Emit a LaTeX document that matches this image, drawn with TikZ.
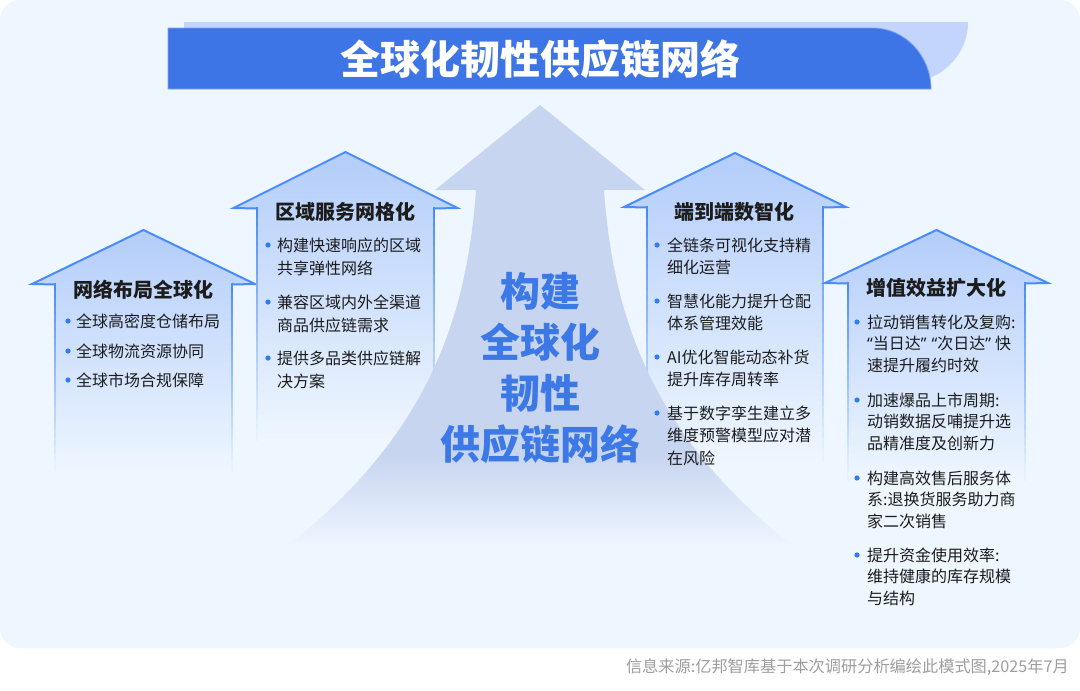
\documentclass[tikz,border=0pt]{standalone}
\usepackage{fontspec}
\setmainfont{Noto Sans CJK SC}
\newfontfamily\latinq{Noto Sans}
\usetikzlibrary{calc}
\definecolor{bgc}{HTML}{EEF6FF}
\definecolor{bannerdark}{HTML}{3D74E6}
\definecolor{bannerlight}{HTML}{C3D4FD}
\definecolor{bannerrim}{HTML}{7FA3F0}
\definecolor{arrowline}{HTML}{4A8CF7}
\definecolor{arrowfill}{HTML}{B3CDFA}
\definecolor{centerfill}{HTML}{C8D5F0}
\definecolor{centertxt}{HTML}{3C78E6}
\definecolor{dotc}{HTML}{2F7CF5}
\definecolor{txtc}{HTML}{1C1C1C}
\definecolor{footc}{HTML}{9E9E9E}

\newcommand{\sidearrow}[6]{%
  % #1 centre x, #2 apex y, #3 head base y, #4 head half width, #5 shaft half width, #6 fade end y
  \begin{scope}
    \clip ({#1-#5},#6) -- ({#1-#5},#3) -- ({#1-#4},#3) -- (#1,#2) -- ({#1+#4},#3) -- ({#1+#5},#3) -- ({#1+#5},#6) -- cycle;
    \shade[top color=arrowfill, bottom color=bgc] ({#1-#4},#2) rectangle ({#1+#4},#6);
  \end{scope}
  \draw[arrowline, line width=2, line join=miter]
    ({#1-#5},{#3+0.5}) -- ({#1-#4},#3) -- (#1,#2) -- ({#1+#4},#3) -- ({#1+#5},{#3+0.5});
  \foreach \i in {0,...,23} {
    \pgfmathtruncatemacro\pc{100-100*\i/24}
    \draw[color=arrowline!\pc!bgc, line width=2, line cap=rect]
      ({#1-#5},{#3+(#6-#3)*\i/24}) -- ({#1-#5},{#3+(#6-#3)*(\i+1)/24});
    \draw[color=arrowline!\pc!bgc, line width=2, line cap=rect]
      ({#1+#5},{#3+(#6-#3)*\i/24}) -- ({#1+#5},{#3+(#6-#3)*(\i+1)/24});
  }
}

\begin{document}
\begin{tikzpicture}[x=1pt,y=-1pt,
  itemtxt/.style={anchor=north west, inner sep=0pt, align=left, text=txtc},
  sizeA/.style={font=\fontsize{16}{22.5}\selectfont},
  sizeB/.style={font=\fontsize{16}{21.7}\selectfont},
  arrowtitle/.style={inner sep=0pt, text=txtc, font=\bfseries\fontsize{20}{24}\selectfont},
  dot/.style={fill=dotc}
]
\useasboundingbox (0,0) rectangle (1080,691);
\fill[white] (0,0) rectangle (1080,691);
\fill[bgc, rounded corners=20] (0,0) rectangle (1080,648);

% banner
\fill[bannerlight] (184,22) -- (968,22) .. controls (968,55) and (941,82) .. (908,82) -- (184,82) -- cycle;
\fill[bannerdark, draw=bannerrim, line width=0.8] (168,28) -- (873,28) .. controls (905,28) and (931,56) .. (931,89) -- (168,89) -- cycle;
\node[inner sep=0pt, text=white, font=\bfseries\fontsize{40}{44}\selectfont] (title) at (540,59) {全球化韧性供应链网络};

% side arrows
\sidearrow{143.5}{230}{284}{111.5}{88.5}{470}
\sidearrow{345.5}{152}{208}{112}{88.5}{440}
\sidearrow{735}{153}{207}{111}{88}{460}
\sidearrow{936.5}{230}{283}{111.5}{88.5}{480}

% centre arrow
\begin{scope}
  \clip (540,105) -- (645,190) -- (604,190) .. controls (614,330) and (660,460) .. (840,580)
        -- (240,580) .. controls (420,460) and (466,330) .. (476,190) -- (435,190) -- cycle;
  \fill[centerfill] (200,100) rectangle (880,456);
  \shade[top color=centerfill, bottom color=bgc] (200,455) rectangle (880,546);
  \fill[bgc] (200,545) rectangle (880,585);
\end{scope}
\node[align=center, inner sep=0pt, text=centertxt, font=\bfseries\fontsize{40}{51}\selectfont] (core) at (540,368)
  {构建\\全球化\\韧性\\供应链网络};

% arrow 1
\node[arrowtitle] (t1) at (143.5,290) {网络布局全球化};
\foreach \y/\n/\s in {321/a1/全球高密度仓储布局, 351/a2/全球物流资源协同, 380/a3/全球市场合规保障} {
  \fill[dot] (68,\y) circle (2.6);
  \node[itemtxt, sizeA] (\n) at (76,{\y-7.5}) {\s};
}

% arrow 2
\node[arrowtitle] (t2) at (345.5,212) {区域服务网格化};
\fill[dot] (268,245) circle (2.6);
\node[itemtxt, font=\fontsize{16}{23}\selectfont] (b1) at (277,237.5) {构建快速响应的区域\\共享弹性网络};
\fill[dot] (268,302) circle (2.6);
\node[itemtxt, font=\fontsize{16}{23}\selectfont] (b2) at (277,294.5) {兼容区域内外全渠道\\商品供应链需求};
\fill[dot] (268,358) circle (2.6);
\node[itemtxt, font=\fontsize{16}{23}\selectfont] (b3) at (277,350.5) {提供多品类供应链解\\决方案};

% arrow 3
\node[arrowtitle] (t3) at (734,212) {端到端数智化};
\fill[dot] (657,245) circle (2.6);
\node[itemtxt, sizeA] (c1) at (667,237.5) {全链条可视化支持精\\细化运营};
\fill[dot] (657,301) circle (2.6);
\node[itemtxt, sizeA] (c2) at (667,293.5) {智慧化能力提升仓配\\体系管理效能};
\fill[dot] (657,357) circle (2.6);
\node[itemtxt, sizeA] (c3) at (667,349.5) {AI优化智能动态补货\\提升库存周转率};
\fill[dot] (657,413) circle (2.6);
\node[itemtxt, sizeA] (c4) at (667,405.5) {基于数字孪生建立多\\维度预警模型应对潜\\在风险};

% arrow 4
\node[arrowtitle] (t4) at (936,288) {增值效益扩大化};
\fill[dot] (857,322) circle (2.6);
\node[itemtxt, sizeB] (d1) at (867,314.5) {拉动销售转化及复购:\\{\latinq “}当日达{\latinq ”}\hspace{5pt}{\latinq “}次日达{\latinq ”}\hspace{4pt}快\\速提升履约时效};
\fill[dot] (857,400) circle (2.6);
\node[itemtxt, sizeB] (d2) at (867,392.5) {加速爆品上市周期:\\动销数据反哺提升选\\品精准度及创新力};
\fill[dot] (857,478) circle (2.6);
\node[itemtxt, sizeB] (d3) at (867,470.5) {构建高效售后服务体\\系:退换货服务助力商\\家二次销售};
\fill[dot] (857,555) circle (2.6);
\node[itemtxt, sizeB] (d4) at (867,547.5) {提升资金使用效率:\\维持健康的库存规模\\与结构};

% footer
\node[anchor=east, inner sep=0pt, text=footc, font=\fontsize{16.2}{20}\selectfont] (src) at (1069,667)
  {信息来源:亿邦智库基于本次调研分析编绘此模式图,2025年7月};
\end{tikzpicture}
\end{document}
